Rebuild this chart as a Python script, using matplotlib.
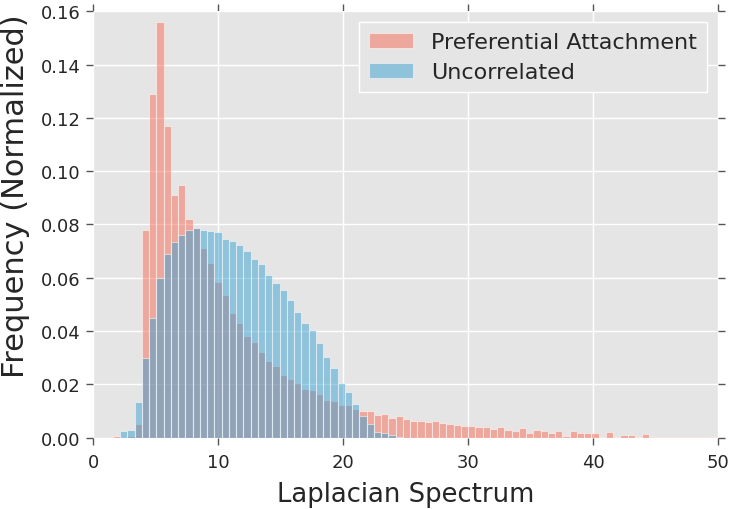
import numpy as np
import matplotlib
matplotlib.use("Agg")
import matplotlib.pyplot as plt

# ---- data ----
bin_start = 1.0
bin_width = 0.58

pref_attachment = [
    0.0004, 0.0006, 0.0, 0.0005, 0.005, 0.078, 0.129, 0.156, 0.117, 0.091,
    0.095, 0.082, 0.0785, 0.071, 0.0655, 0.0585, 0.0534, 0.0469, 0.0430, 0.0383,
    0.0359, 0.0321, 0.0289, 0.0269, 0.0235, 0.0221, 0.0206, 0.0184, 0.0178, 0.0163,
    0.0140, 0.0136, 0.0123, 0.0123, 0.0108, 0.0101, 0.0101, 0.0085, 0.0090, 0.0075,
    0.0080, 0.0071, 0.0064, 0.0064, 0.0059, 0.0061, 0.0055, 0.0050, 0.0048, 0.0044,
    0.0045, 0.0040, 0.0040, 0.0033, 0.0039, 0.0030, 0.0025, 0.0038, 0.0018, 0.0028,
    0.0024, 0.0019, 0.0026, 0.0008, 0.0025, 0.0016, 0.0019, 0.0019, 0.0003, 0.0020,
    0.0004, 0.0010, 0.0010, 0.0002, 0.0014, 0.0002, 0.0004, 0.0004, 0.0002, 0.0002,
    0.0001, 0.0001, 0.0001, 0.0001,
]

uncorrelated = [
    0.0, 0.0, 0.0024, 0.0030, 0.0135, 0.030, 0.045, 0.060, 0.069, 0.0735,
    0.076, 0.078, 0.0785, 0.0779, 0.0775, 0.0771, 0.0745, 0.0739, 0.0723, 0.0700,
    0.0669, 0.0653, 0.0610, 0.0581, 0.0556, 0.0518, 0.0471, 0.0430, 0.0404, 0.0355,
    0.0304, 0.0261, 0.0205, 0.0170, 0.0126, 0.0081, 0.0051, 0.0022, 0.0018, 0.0009,
    0.0002,
]

labels = ["Preferential Attachment", "Uncorrelated"]
x_ticks = [0, 10, 20, 30, 40, 50]
y_ticks = [0.00, 0.02, 0.04, 0.06, 0.08, 0.10, 0.12, 0.14, 0.16]

# ---- figure ----
plt.rcParams['font.family'] = ['DejaVu Sans']
fig = plt.figure(figsize=(7.3, 5.1), dpi=100)
ax = fig.add_axes([0.1274, 0.1398, 0.8562, 0.8361])
ax.set_facecolor('#E5E5E5')
ax.set_axisbelow(True)
ax.grid(True, color='white', linewidth=1.0)
for s in ax.spines.values():
    s.set_visible(False)

red = '#F86A55'
blue = '#3AA0D2'

def draw(values, color, label):
    n = len(values)
    edges = bin_start + bin_width * np.arange(n + 1)
    ax.hist(edges[:-1], bins=edges, weights=values, color=color, alpha=0.5,
            edgecolor='white', linewidth=0.8, label=label)

draw(pref_attachment, red, labels[0])
draw(uncorrelated, blue, labels[1])

ax.set_xlim(0, 50)
ax.set_ylim(0, 0.16)
ax.set_xticks(x_ticks)
ax.set_yticks(y_ticks)
ax.set_yticklabels([f"{v:.2f}" for v in y_ticks])
ax.tick_params(axis='both', which='both', direction='out', length=5, width=1,
               color='#555555', labelcolor='#262626', labelsize=13,
               top=True, right=True, labeltop=False, labelright=False)
ax.tick_params(axis='x', pad=6)
ax.tick_params(axis='y', pad=4)

ax.set_xlabel("Laplacian Spectrum", fontsize=18.6, color='#262626', labelpad=7)
ax.set_ylabel("Frequency (Normalized)", fontsize=22, color='#262626')
ax.yaxis.set_label_coords(-0.100, 0.568)

leg = ax.legend(loc='upper right', fontsize=16, frameon=True, fancybox=False,
                handlelength=2.0, handleheight=0.65, handletextpad=0.8,
                labelspacing=0.45, borderpad=0.45, borderaxespad=0.5)
leg.get_frame().set_facecolor('#E5E5E5')
leg.get_frame().set_edgecolor('white')
leg.get_frame().set_linewidth(1.0)
leg.get_frame().set_alpha(1.0)
for t in leg.get_texts():
    t.set_color('#262626')

fig.savefig("out.png", dpi=100)
